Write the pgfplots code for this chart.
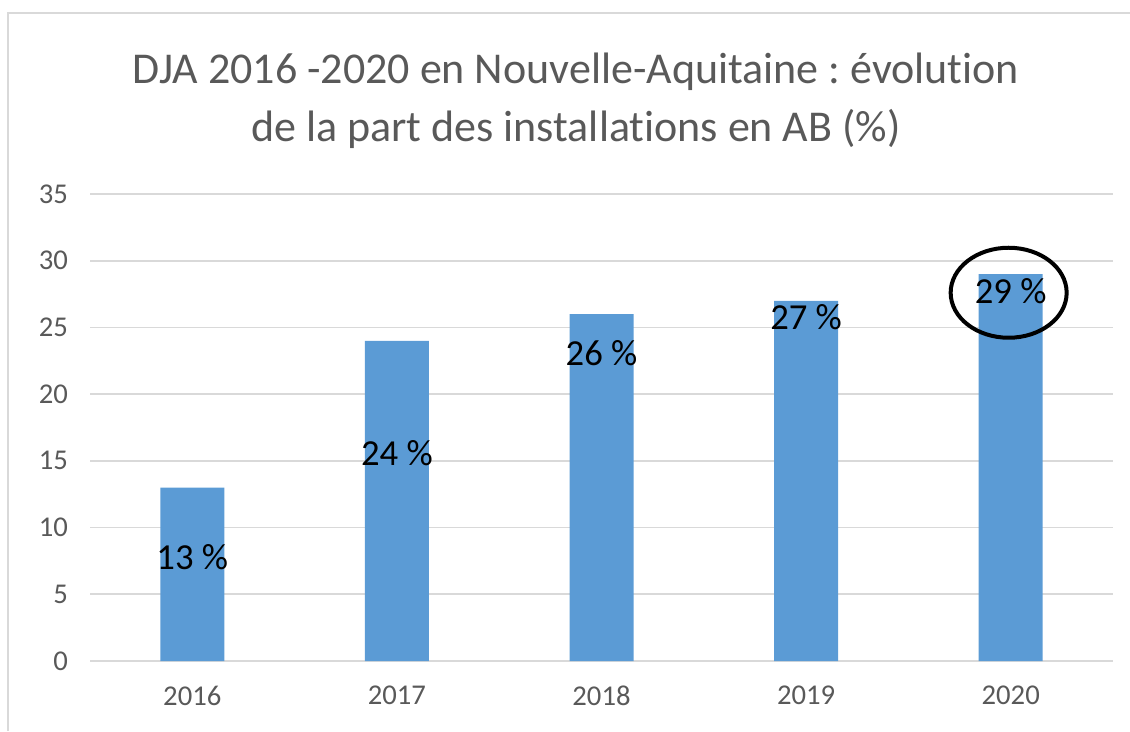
\documentclass[border=0pt]{standalone}
\usepackage{pgfplots}
\pgfplotsset{compat=1.18}
\usepackage{fontspec}
\setmainfont{Carlito}[Ligatures={NoCommon}]
\definecolor{barblue}{HTML}{5B9BD5}
\definecolor{gridgray}{HTML}{D9D9D9}
\definecolor{txtgray}{HTML}{595959}
\frenchspacing
\begin{document}
\begin{tikzpicture}
\path[use as bounding box] (0,0) rectangle (847.5pt,-548.25pt);
\draw[gridgray, line width=1.5pt] (6pt,-548.25pt) -- (6pt,-9.75pt) -- (847.5pt,-9.75pt);
\node[align=center, text=txtgray, font=\fontsize{33}{43.5}\selectfont] at (432pt,-75.75pt)
  {DJA 2016 -2020 en Nouvelle-Aquitaine : évolution\\de la part des installations en AB (\%)};
\begin{axis}[
  at={(67.5pt,-495.75pt)}, anchor=south west,
  scale only axis, width=767.25pt, height=350.25pt,
  xmin=-0.5, xmax=4.5, ymin=0, ymax=35,
  ytick={0,5,...,35},
  xtick={0,1,2,3,4},
  xticklabels={2016,2017,2018,2019,2020},
  axis line style={draw=none},
  major tick length=0pt,
  ymajorgrids, grid style={gridgray, line width=1.2pt},
  /pgf/number format/assume math mode=true,
  tick label style={font=\fontsize{21.5}{25}\selectfont, text=txtgray},
  yticklabel style={xshift=-13pt},
  xticklabel style={yshift=-15pt},
  clip=false,
]
\addplot[ybar, bar width=48pt, fill=barblue, draw=none] coordinates {(0,13) (1,24) (2,26) (3,27) (4,29)};
\begin{scope}[every node/.style={font=\fontsize{27.5}{30}\selectfont, text=black, inner sep=0pt}]
\node at (axis cs:0,7.8) {13 \%};
\node at (axis cs:1,15.6) {24 \%};
\node at (axis cs:2,23.1) {26 \%};
\node at (axis cs:3,25.8) {27 \%};
\node at (axis cs:4,27.7) {29 \%};
\end{scope}
\draw[black, line width=3pt] (axis cs:3.99,27.6) ellipse [x radius=43.5pt, y radius=33.75pt];
\end{axis}
\end{tikzpicture}
\end{document}
